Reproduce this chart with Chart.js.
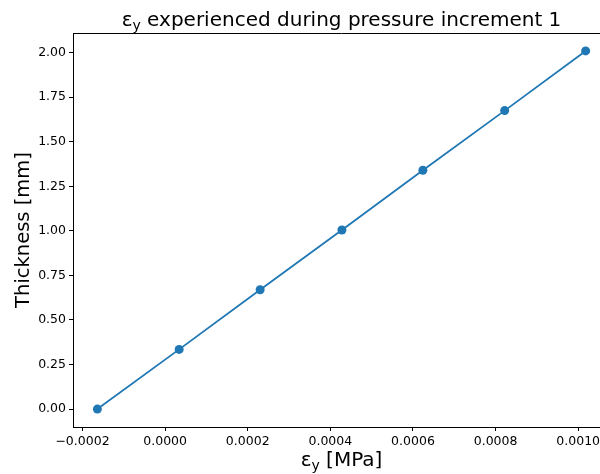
<!DOCTYPE html>
<html>
<head>
<meta charset="utf-8">
<script src="https://cdn.jsdelivr.net/npm/chart.js@4/dist/chart.umd.min.js"></script>
<style>
  html, body { margin: 0; padding: 0; background: #fff; overflow: hidden; }
  #wrap { width: 640px; height: 474px; }
</style>
</head>
<body>
<div id="wrap"><canvas id="chart" width="640" height="474"></canvas></div>
<script>
// strain values (x) and thickness (y)
const strain = [-0.000164, 0.000034, 0.000230, 0.000428, 0.000624, 0.000822, 0.001018]
const thickness = [0, 0.335, 0.67, 1.005, 1.34, 1.675, 2.01]

// tick labels
const xTicks = [-0.0002, 0, 0.0002, 0.0004, 0.0006, 0.0008, 0.0010]
const yTicks = [0, 0.25, 0.5, 0.75, 1.0, 1.25, 1.5, 1.75, 2.0]

const BLUE = "#1f77b4"
const FONT = "'DejaVu Sans', sans-serif"

// draw text pieces with a subscript, centered on cx
function drawRich(ctx, parts, cx, y, size) {
  const sub = size * 0.7
  let total = 0
  parts.forEach((p) => {
    ctx.font = (p.sub ? sub : size) + "px " + FONT
    p.w = ctx.measureText(p.t).width
    total += p.w
  })
  let x = cx - total / 2
  parts.forEach((p) => {
    ctx.font = (p.sub ? sub : size) + "px " + FONT
    ctx.fillText(p.t, x, p.sub ? y + size * 0.2 : y)
    x += p.w
  })
}

const extras = {
  id: "extras",
  afterDraw(chart) {
    const { ctx, chartArea } = chart
    const cx = (chartArea.left + chartArea.right) / 2
    ctx.save()
    ctx.fillStyle = "#000"
    ctx.textBaseline = "alphabetic"
    ctx.textAlign = "left"
    drawRich(ctx, [{ t: "ε" }, { t: "y", sub: true }, { t: " experienced during pressure increment 1" }], cx, 26, 20)
    drawRich(ctx, [{ t: "ε" }, { t: "y", sub: true }, { t: " [MPa]" }], cx, 466, 20)
    // frame top + right
    ctx.strokeStyle = "#000"
    ctx.lineWidth = 1
    ctx.beginPath()
    ctx.moveTo(chartArea.left, chartArea.top + 0.5)
    ctx.lineTo(chartArea.right, chartArea.top + 0.5)
    ctx.lineTo(chartArea.right, chartArea.bottom)
    ctx.stroke()
    ctx.restore()
  },
}

const fmtMinus = (s) => s.replace("-", "\u2212")

new Chart(document.getElementById("chart"), {
  type: "line",
  data: {
    datasets: [
      {
        data: strain.map((x, i) => ({ x: x, y: thickness[i] })),
        borderColor: BLUE,
        backgroundColor: BLUE,
        borderWidth: 1.8,
        pointRadius: 4.5,
        pointBorderWidth: 0,
        tension: 0,
      },
    ],
  },
  options: {
    responsive: false,
    animation: false,
    devicePixelRatio: 1,
    layout: { padding: { top: 33, left: 0, right: 30, bottom: 0 } },
    plugins: { legend: { display: false }, tooltip: { enabled: false } },
    scales: {
      x: {
        type: "linear",
        min: -0.000223,
        max: 0.001077,
        afterBuildTicks: (s) => { s.ticks = xTicks.map((v) => ({ value: v })) },
        afterFit: (s) => { s.height = 47 },
        grid: { drawOnChartArea: false, drawTicks: true, tickLength: 4, tickColor: "#000" },
        border: { color: "#000", width: 1 },
        ticks: {
          color: "#000",
          padding: 3,
          maxRotation: 0,
          autoSkip: false,
          font: { family: FONT, size: 12.5 },
          callback: (v) => fmtMinus(Number(v).toFixed(4)),
        },
      },
      y: {
        type: "linear",
        min: -0.1005,
        max: 2.1105,
        afterBuildTicks: (s) => { s.ticks = yTicks.map((v) => ({ value: v })) },
        afterFit: (s) => { s.width = 73 },
        grid: { drawOnChartArea: false, drawTicks: true, tickLength: 4, tickColor: "#000" },
        border: { color: "#000", width: 1 },
        title: { display: true, text: "Thickness [mm]", color: "#000", font: { family: FONT, size: 19.5 }, padding: { top: 12, bottom: 0 } },
        ticks: {
          color: "#000",
          padding: 3,
          autoSkip: false,
          font: { family: FONT, size: 12.5 },
          callback: (v) => Number(v).toFixed(2),
        },
      },
    },
  },
  plugins: [extras],
})
</script>
</body>
</html>
